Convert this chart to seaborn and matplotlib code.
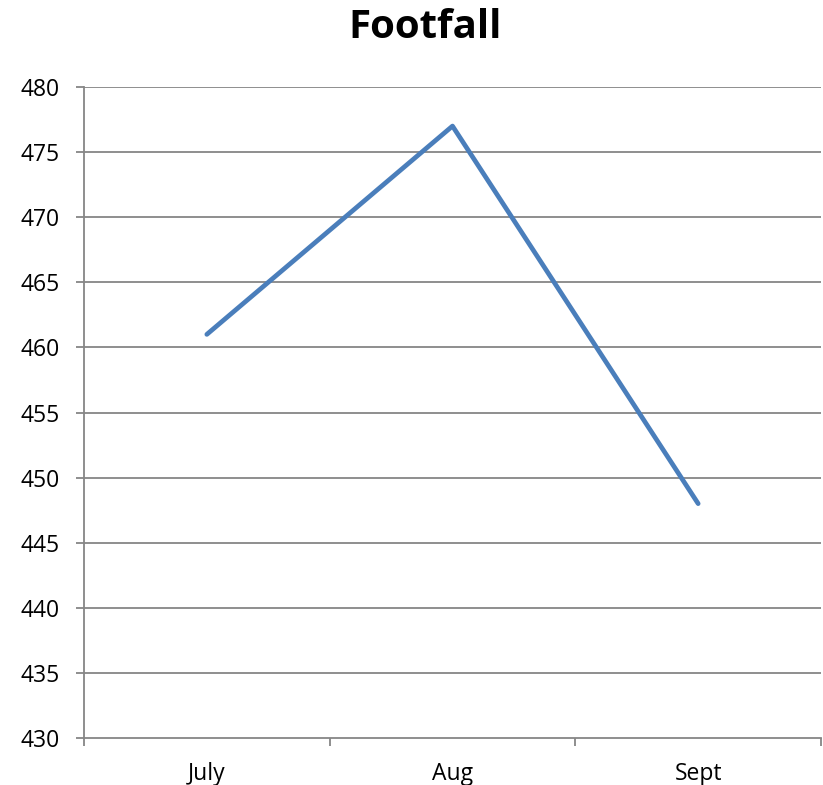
import matplotlib
matplotlib.use("Agg")
import matplotlib.pyplot as plt
from matplotlib.ticker import FixedLocator, MultipleLocator
import seaborn as sns
import pandas as pd

months = ["July", "Aug", "Sept"]
footfall = [461, 477, 448]

sns.set_theme(style="white")
plt.rcParams["font.family"] = ["Open Sans", "DejaVu Sans"]

df = pd.DataFrame({"month": months, "footfall": footfall})

fig = plt.figure(figsize=(8.23, 7.85), dpi=100)
ax = fig.add_axes([84 / 823, 1 - 738 / 785, (821 - 84) / 823, (738 - 87) / 785])

grid_color = "#868686"
for y in range(435, 481, 5):
    ax.axhline(y, color=grid_color, lw=1.3, zorder=1)

sns.lineplot(data=df, x="month", y="footfall", ax=ax, color="#4A7EBB",
             linewidth=3.4, sort=False, zorder=3)

ax.set_xlim(-0.5, 2.5)
ax.set_ylim(430, 480)
ax.yaxis.set_major_locator(MultipleLocator(5))
ax.xaxis.set_major_locator(FixedLocator([0, 1, 2]))
ax.set_xticklabels(months)
ax.xaxis.set_minor_locator(FixedLocator([-0.5, 0.5, 1.5, 2.5]))
ax.tick_params(axis="x", which="major", length=0, pad=17, labelsize=16.5,
               labelcolor="black")
ax.tick_params(axis="x", which="minor", length=5.5, width=1.3, color=grid_color, direction="out")
ax.tick_params(axis="y", which="major", length=5.5, width=1.3, color=grid_color,
               direction="out", pad=12, labelsize=16.5, labelcolor="black")
ax.xaxis.set_ticks_position("bottom")
ax.yaxis.set_ticks_position("left")

for side in ["top", "right"]:
    ax.spines[side].set_visible(False)
for side in ["left", "bottom"]:
    ax.spines[side].set_color(grid_color)
    ax.spines[side].set_linewidth(1.3)

ax.set_xlabel("")
ax.set_ylabel("")
fig.text(425 / 823, 1 - 28 / 785, "Footfall", ha="center", va="center",
         fontsize=29, fontweight="bold", color="black")

fig.savefig("out.png", dpi=100)
